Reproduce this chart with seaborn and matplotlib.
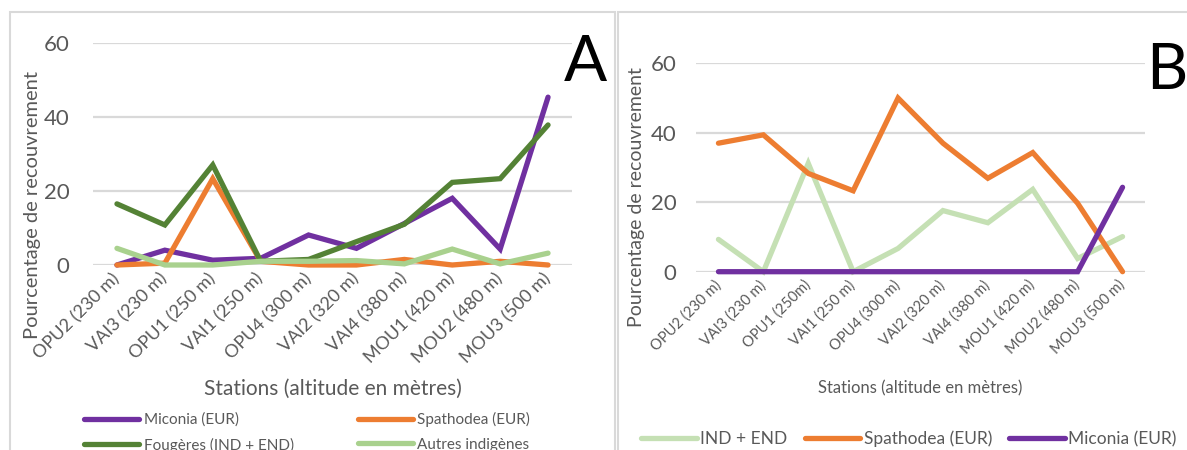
import matplotlib
matplotlib.use("Agg")

import matplotlib.pyplot as plt
import pandas as pd
import seaborn as sns
from matplotlib.patches import Rectangle


# panel A: stations and cover values (%)
stations_a = ["OPU2 (230 m)", "VAI3 (230 m)", "OPU1 (250 m)", "VAI1 (250 m)", "OPU4 (300 m)",
              "VAI2 (320 m)", "VAI4 (380 m)", "MOU1 (420 m)", "MOU2 (480 m)", "MOU3 (500 m)"]
miconia_a = [0, 4.0, 1.3, 1.8, 8.1, 4.5, 11.2, 18.0, 4.3, 45.3]
spathodea_a = [0, 0.5, 23.3, 1.0, 0, 0, 1.5, 0, 1.0, 0]
fougeres_a = [16.5, 10.8, 27.0, 1.0, 1.5, 6.3, 11.0, 22.3, 23.3, 37.8]
autres_a = [4.5, 0, 0, 1.0, 1.0, 1.2, 0.3, 4.3, 0.3, 3.2]

# panel B
stations_b = ["OPU2 (230 m)", "VAI3 (230 m)", "OPU1 (250m)", "VAI1 (250 m)", "OPU4 (300 m)",
              "VAI2 (320 m)", "VAI4 (380 m)", "MOU1 (420 m)", "MOU2 (480 m)", "MOU3 (500 m)"]
indend_b = [9.3, 0, 31.2, 0, 6.7, 17.6, 14.1, 23.7, 3.8, 10.1]
spathodea_b = [37.0, 39.4, 28.3, 23.3, 50.0, 37.0, 26.9, 34.3, 19.7, 0]
miconia_b = [0, 0, 0, 0, 0, 0, 0, 0, 0, 24.3]

series_a = {
    "Miconia (EUR)": (miconia_a, "#7030A0"),
    "Spathodea (EUR)": (spathodea_a, "#ED7D31"),
    "Fougères (IND + END)": (fougeres_a, "#548235"),
    "Autres indigènes": (autres_a, "#A9D18E"),
}
series_b = {
    "IND + END": (indend_b, "#C5E0B4"),
    "Spathodea (EUR)": (spathodea_b, "#ED7D31"),
    "Miconia (EUR)": (miconia_b, "#7030A0"),
}

GREY = "#595959"
GRID = "#D9D9D9"
W, H = 1187, 450


def long_frame(stations, series):
    rows = []
    for name, (values, _) in series.items():
        for st, v in zip(stations, values):
            rows.append({"station": st, "value": v, "series": name})
    return pd.DataFrame(rows)


def draw_panel(ax, stations, series, tick_size, label_size, xlabel_size):
    df = long_frame(stations, series)
    palette = {k: c for k, (_, c) in series.items()}
    sns.lineplot(data=df, x="station", y="value", hue="series", hue_order=list(series),
                 palette=palette, linewidth=3.8, sort=False, legend=False, ax=ax)
    for line in ax.get_lines():
        line.set_clip_on(False)
        line.set_solid_joinstyle("miter")
    ax.set_xlim(-0.5, len(stations) - 0.5)
    ax.set_ylim(0, 60)
    ax.set_yticks([0, 20, 40, 60])
    ax.yaxis.grid(True, color=GRID, linewidth=1.6, zorder=0)
    ax.set_axisbelow(True)
    for s in ax.spines.values():
        s.set_visible(False)
    ax.tick_params(axis="both", length=0, colors=GREY)
    ax.tick_params(axis="y", labelsize=16, pad=20)
    ax.tick_params(axis="x", labelsize=tick_size, pad=8)
    ax.set_xticks(range(len(stations)))
    ax.set_xticklabels(stations, rotation=45, ha="right", va="center", rotation_mode="anchor")
    ax.set_ylabel("Pourcentage de recouvrement", fontsize=label_size, color=GREY)
    ax.set_xlabel("Stations (altitude en mètres)", fontsize=xlabel_size, color=GREY)
    return ax


sns.set_theme(style="white")
plt.rcParams["font.family"] = ["Lato", "DejaVu Sans"]

fig = plt.figure(figsize=(W / 100, H / 100), dpi=100)

# panel frames
fig.patches.append(Rectangle((10 / W, -0.1), 605 / W, 1.1 - 12 / H, transform=fig.transFigure,
                             fill=False, edgecolor=GRID, linewidth=1.5))
fig.patches.append(Rectangle((618 / W, -0.1), 600 / W, 1.1 - 12 / H, transform=fig.transFigure,
                             fill=False, edgecolor=GRID, linewidth=1.5))

ax_a = fig.add_axes([93 / W, (H - 265) / H, 479 / W, 222.3 / H])
draw_panel(ax_a, stations_a, series_a, tick_size=13, label_size=14.5, xlabel_size=15)
ax_a.tick_params(axis="y", pad=17)
ax_a.yaxis.set_label_coords((41 - 93) / 479, (265 - 205) / 222.3)
ax_a.xaxis.labelpad = 9

ax_b = fig.add_axes([696 / W, (H - 271.7) / H, 449 / W, 208.4 / H])
draw_panel(ax_b, stations_b, series_b, tick_size=10.5, label_size=14, xlabel_size=12)
ax_b.tick_params(axis="y", pad=14)
ax_b.yaxis.set_label_coords((645 - 696) / 449, (271.7 - 197.5) / 208.4)
ax_b.xaxis.labelpad = 17

# legends (column-wise fill, so reorder to read row by row)
la = ax_a.get_lines()[:len(series_a)]
names_a = list(series_a)
order = [0, 2, 1, 3]
fig.legend([la[i] for i in order], [names_a[i] for i in order], ncol=2, loc="upper left",
           bbox_to_anchor=(84 / W, 1 - 412 / H), frameon=False, fontsize=11,
           handlelength=3.6, handletextpad=0.3, columnspacing=4.2, labelspacing=0.7,
           labelcolor=GREY, borderaxespad=0, borderpad=0)
lb = ax_b.get_lines()[:len(series_b)]
fig.legend(lb, list(series_b), ncol=3, loc="center left",
           bbox_to_anchor=(641 / W, 1 - 439 / H), frameon=False, fontsize=12.5,
           handlelength=3.2, handletextpad=0.2, columnspacing=1.0, labelcolor=GREY,
           borderaxespad=0, borderpad=0)

fig.text(585 / W, 1 - 63 / H, "A", fontsize=46, ha="center", va="center", color="black")
fig.text(1167 / W, 1 - 71 / H, "B", fontsize=46, ha="center", va="center", color="black")

fig.savefig("out.png", dpi=100)
